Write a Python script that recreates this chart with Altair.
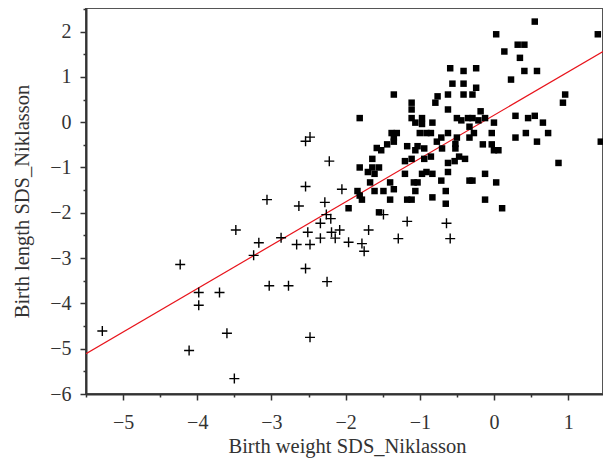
import altair as alt
import pandas as pd

# Group 1: filled squares
sq_x = [0.55, 0.03, 1.40, 0.14, 0.32, 0.41, 0.35, 0.41, 0.58, 0.23,
        -0.59, -0.41, -0.24, -0.56, -0.41, -0.24, -1.35, -0.76, -0.62, -0.41,
        -0.29, -0.79, -1.11, -1.11, -0.62, -0.18, 0.96, 0.93, -1.81, -1.11,
        -0.97, -1.06, -0.97, -0.83, -0.50, -0.44, -0.35, -0.29, -0.21, -0.12,
        0.00, -0.33, 0.29, 0.46, 0.55, 0.66, 0.29, 0.43, 0.58, 0.73,
        1.44, 0.87, -1.38, -1.31, -1.35, -1.35, -1.00, -0.91, -0.85, -0.62,
        -0.71, -0.77, -0.50, -0.33, -0.27, -0.03, -1.44, -1.58, -1.52, -1.17,
        -1.03, -0.94, -1.06, -0.70, -0.52, -0.52, -0.15, -0.03, 0.00, 0.06,
        -1.64, -1.11, -1.20, -0.94, -0.85, -0.47, -0.53, -0.39, -0.62, -1.81,
        -1.64, -1.55, -1.70, -1.61, -1.20, -0.97, -0.91, -0.83, -0.62, -0.12,
        -0.71, -0.33, -0.29, 0.03, -1.67, -1.40, -1.08, -1.03, -1.35, -1.61,
        -1.49, -1.06, -0.65, -1.84, -1.81, -1.78, -1.40, -1.17, -1.11, -0.83,
        -0.12, -0.65, 0.11, -1.96, -1.55]
sq_y = [2.22, 1.94, 1.94, 1.56, 1.71, 1.71, 1.42, 1.13, 1.13, 0.94,
        1.19, 1.13, 1.19, 0.85, 0.85, 0.76, 0.61, 0.57, 0.61, 0.61,
        0.61, 0.43, 0.43, 0.28, 0.28, 0.24, 0.61, 0.43, 0.09, 0.09,
        0.09, -0.01, -0.04, -0.01, 0.09, 0.04, 0.09, 0.09, 0.04, 0.09,
        -0.01, -0.10, 0.14, 0.09, 0.14, -0.01, -0.34, -0.24, -0.43, -0.24,
        -0.43, -0.90, -0.24, -0.24, -0.34, -0.43, -0.24, -0.24, -0.24, -0.24,
        -0.34, -0.43, -0.34, -0.34, -0.24, -0.24, -0.49, -0.57, -0.62, -0.53,
        -0.53, -0.58, -0.62, -0.58, -0.48, -0.58, -0.49, -0.49, -0.62, -0.62,
        -0.81, -0.81, -0.86, -0.81, -0.76, -0.76, -0.86, -0.81, -0.90, -1.00,
        -1.00, -1.00, -1.10, -1.14, -1.14, -1.14, -1.10, -1.14, -1.10, -1.14,
        -1.29, -1.29, -1.29, -1.33, -1.33, -1.33, -1.33, -1.33, -1.48, -1.52,
        -1.52, -1.52, -1.52, -1.52, -1.62, -1.71, -1.71, -1.71, -1.71, -1.66,
        -1.71, -1.80, -1.90, -1.90, -1.99]

# Group 2: plus markers
pl_x = [-2.54, -2.48, -2.54, -3.06, -2.63, -3.48, -2.51, -2.22, -2.05, -2.28,
        -2.26, -2.20, -2.34, -1.49, -1.17, -0.64, -2.19, -2.08, -1.69, -2.34,
        -2.14, -1.29, -0.59, -2.66, -2.48, -1.96, -1.78, -1.75, -2.54, -2.25,
        -2.48, -4.23, -5.28, -4.11, -3.98, -3.98, -3.70, -3.60, -3.50, -3.24,
        -3.17, -3.03, -2.87, -2.77]
pl_y = [-0.42, -0.33, -1.42, -1.71, -1.85, -2.38, -2.43, -0.86, -1.48, -1.77,
        -2.04, -2.13, -2.23, -2.04, -2.19, -2.23, -2.43, -2.38, -2.38, -2.56,
        -2.56, -2.57, -2.57, -2.70, -2.70, -2.65, -2.68, -2.85, -3.23, -3.52,
        -4.75, -3.14, -4.61, -5.04, -3.76, -4.04, -3.76, -4.66, -5.66, -2.94,
        -2.66, -3.61, -2.55, -3.61]

# Fitted line end points
line_x = [-5.5, 1.47]
line_y = [-5.11, 1.56]

x_major = [-5, -4, -3, -2, -1, 0, 1]
x_minor = [-5.5, -4.5, -3.5, -2.5, -1.5, -0.5, 0.5]
y_major = [-6, -5, -4, -3, -2, -1, 0, 1, 2]
y_minor = [-5.5, -4.5, -3.5, -2.5, -1.5, -0.5, 0.5, 1.5, 2.5]

sq_df = pd.DataFrame({"x": sq_x, "y": sq_y})
pl_df = pd.DataFrame({"x": pl_x, "y": pl_y})
ln_df = pd.DataFrame({"x": line_x, "y": line_y})

FONT = "Liberation Serif"
TXT = "#333333"

xscale = alt.Scale(domain=[-5.5, 1.47], nice=False, zero=False)
yscale = alt.Scale(domain=[-6, 2.52], nice=False, zero=False)

x_major_axis = alt.Axis(
    orient="bottom",
    title="Birth weight SDS_Niklasson",
    values=x_major,
    format="d",
    tickSize=6,
    grid=False,
    labelOverlap=False,
    labelFlush=False,
    labelPadding=12,
    titleX=261,
    titleY=42,
)
y_major_axis = alt.Axis(
    orient="left",
    title="Birth length SDS_Niklasson",
    values=y_major,
    format="d",
    tickSize=6,
    grid=False,
    labelOverlap=False,
    labelPadding=9,
    titleX=-54,
    titleY=193,
)
x_minor_axis = alt.Axis(
    orient="bottom", title=None, values=x_minor, tickSize=3,
    labels=False, domain=False, grid=False,
)
y_minor_axis = alt.Axis(
    orient="left", title=None, values=y_minor, tickSize=3,
    labels=False, domain=False, grid=False,
)

line = alt.Chart(ln_df).mark_line(color="#e8141c", strokeWidth=1.2, clip=True).encode(
    x=alt.X("x:Q", scale=xscale, axis=None),
    y=alt.Y("y:Q", scale=yscale, axis=None),
)

squares = alt.Chart(sq_df).mark_point(
    shape="square", filled=True, color="black", size=42, opacity=1
).encode(
    x=alt.X("x:Q", scale=xscale, axis=x_major_axis),
    y=alt.Y("y:Q", scale=yscale, axis=y_major_axis),
)

pluses = alt.Chart(pl_df).mark_point(
    shape="M-1,0L1,0M0,-1L0,1", filled=False, color="black",
    size=100, strokeWidth=1.4, opacity=1
).encode(
    x=alt.X("x:Q", scale=xscale, axis=x_minor_axis),
    y=alt.Y("y:Q", scale=yscale, axis=y_minor_axis),
)

chart = alt.layer(line, squares, pluses).resolve_axis(
    x="independent", y="independent"
).properties(
    width=517,
    height=386,
    autosize=alt.AutoSizeParams(type="none"),
    padding={"left": 78, "top": 0, "right": 0, "bottom": 64},
).configure_view(
    stroke="#555555", strokeWidth=2
).configure_axis(
    domainColor="#333333", domainWidth=2,
    tickColor="#333333", tickWidth=1.5,
    labelFont=FONT, labelFontSize=20, labelColor=TXT,
    titleFont=FONT, titleFontSize=20.5, titleColor=TXT, titleFontWeight="normal",
)

chart.save("out.html", embed_options={"renderer": "svg", "actions": False})
